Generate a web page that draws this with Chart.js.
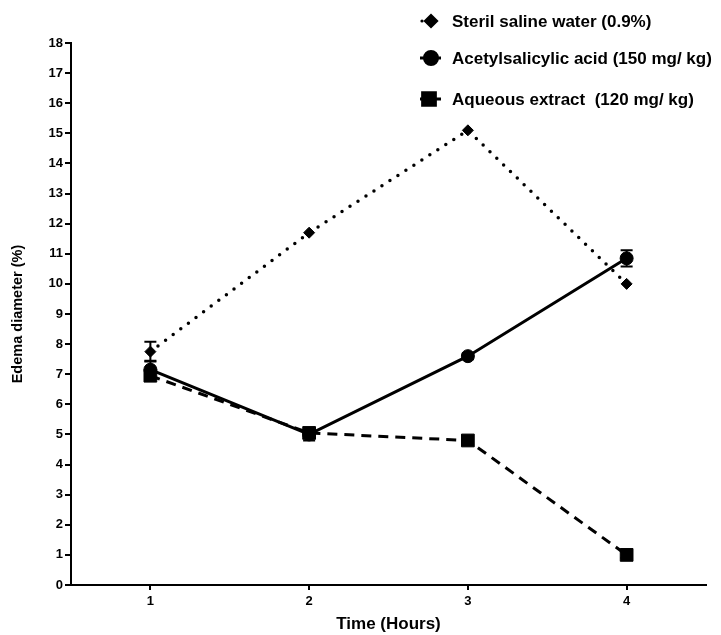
<!DOCTYPE html>
<html>
<head>
<meta charset="utf-8">
<script src="https://cdn.jsdelivr.net/npm/chart.js@4/dist/chart.umd.min.js"></script>
<style>
html,body{margin:0;padding:0;background:#fff;}
#wrap{width:721px;height:635px;position:relative;}
</style>
</head>
<body>
<div id="wrap"><canvas id="c" width="721" height="635"></canvas></div>
<script>
// ---- data ----
const hours = [1, 2, 3, 4];
const xTickLabels = ['1', '2', '3', '4'];
const seriesNames = ['Steril saline water (0.9%)', 'Acetylsalicylic acid (150 mg/ kg)', 'Aqueous extract  (120 mg/ kg)'];
const salineValues = [7.75, 11.7, 15.1, 10.0];
const salineErrors = [0.33, 0, 0, 0];
const aspirinValues = [7.15, 5.0, 7.6, 10.85];
const aspirinErrors = [0.3, 0.2, 0.1, 0.27];
const extractValues = [6.95, 5.05, 4.8, 1.0];
const extractErrors = [0.1, 0.15, 0.1, 0.1];

const FONT = "'Liberation Sans', Arial, Helvetica, sans-serif";

function pts(vals) { return hours.map((h, i) => ({ x: h, y: vals[i] })); }

const errs = [salineErrors, aspirinErrors, extractErrors];

const errorBarPlugin = {
  id: 'errorBars',
  beforeDatasetsDraw(chart) {
    const { ctx, scales } = chart;
    ctx.save();
    ctx.strokeStyle = '#000';
    ctx.lineWidth = 2;
    chart.data.datasets.forEach((ds, di) => {
      ds.data.forEach((p, i) => {
        const e = errs[di][i];
        if (!e) return;
        const x = scales.x.getPixelForValue(p.x);
        const y1 = scales.y.getPixelForValue(p.y + e);
        const y2 = scales.y.getPixelForValue(p.y - e);
        ctx.beginPath();
        ctx.moveTo(x, y1); ctx.lineTo(x, y2);
        ctx.moveTo(x - 6, y1); ctx.lineTo(x + 6, y1);
        ctx.moveTo(x - 6, y2); ctx.lineTo(x + 6, y2);
        ctx.stroke();
      });
    });
    ctx.restore();
  }
};

const legendPlugin = {
  id: 'customLegend',
  afterDraw(chart) {
    const { ctx } = chart;
    const items = [
      { y: 21, ds: 0 },
      { y: 58, ds: 1 },
      { y: 99, ds: 2 }
    ];
    ctx.save();
    items.forEach(it => {
      const ds = chart.data.datasets[it.ds];
      ctx.strokeStyle = '#000';
      ctx.fillStyle = '#000';
      ctx.lineWidth = 3;
      if (it.ds === 0) {
        ctx.beginPath(); ctx.arc(422, it.y, 1.6, 0, Math.PI * 2); ctx.fill();
      } else {
        ctx.beginPath(); ctx.moveTo(420, it.y); ctx.lineTo(441, it.y); ctx.stroke();
      }
      Chart.helpers.drawPoint(ctx, {
        pointStyle: ds.pointStyle, radius: ds.pointRadius, borderWidth: 1, rotation: 0
      }, it.ds === 2 ? 429 : 431, it.y);
      ctx.fillStyle = '#000';
      ctx.font = 'bold 17px ' + FONT;
      ctx.textBaseline = 'middle';
      ctx.textAlign = 'left';
      ctx.fillText(ds.label, 452, it.y + 1);
    });
    ctx.restore();
  }
};

new Chart(document.getElementById('c'), {
  type: 'line',
  data: {
    datasets: [
      {
        label: seriesNames[0], data: pts(salineValues),
        borderColor: '#000', backgroundColor: '#000', borderWidth: 3.5,
        borderDash: [0, 9.5], borderCapStyle: 'round',
        pointStyle: 'rectRot', pointRadius: 5.5, pointBorderWidth: 1, tension: 0
      },
      {
        label: seriesNames[1], data: pts(aspirinValues),
        borderColor: '#000', backgroundColor: '#000', borderWidth: 3,
        pointStyle: 'circle', pointRadius: 6.5, pointBorderWidth: 1, tension: 0
      },
      {
        label: seriesNames[2], data: pts(extractValues),
        borderColor: '#000', backgroundColor: '#000', borderWidth: 3,
        borderDash: [10, 7],
        pointStyle: 'rect', pointRadius: 9, pointBorderWidth: 1, tension: 0
      }
    ]
  },
  options: {
    responsive: false,
    animation: false,
    events: [],
    layout: { padding: { top: 43, right: 15, left: 0, bottom: 0 } },
    plugins: { legend: { display: false }, tooltip: { enabled: false } },
    scales: {
      x: {
        type: 'linear', min: 0.5, max: 4.5,
        afterBuildTicks(s) { s.ticks = hours.map(v => ({ value: v })); },
        afterFit(s) { s.height = 50; },
        ticks: {
          color: '#000', font: { family: FONT, size: 13, weight: 'bold' }, padding: 4,
          callback: (v) => xTickLabels[hours.indexOf(v)]
        },
        grid: { drawOnChartArea: false, color: '#000', lineWidth: 2, tickLength: 5 },
        border: { color: '#000', width: 2 },
        title: {
          display: true, text: 'Time (Hours)', color: '#000',
          font: { family: FONT, size: 17, weight: 'bold' }, padding: { top: 0, bottom: 0 }
        }
      },
      y: {
        min: 0, max: 18,
        afterFit(s) { s.width = 71; },
        ticks: { stepSize: 1, color: '#000', font: { family: FONT, size: 13, weight: 'bold' }, padding: 2 },
        grid: { drawOnChartArea: false, color: '#000', lineWidth: 2, tickLength: 6 },
        border: { color: '#000', width: 2 },
        title: {
          display: true, text: 'Edema diameter (%)', color: '#000',
          font: { family: FONT, size: 14.5, weight: 'bold' }, padding: { top: 9, bottom: 0 }
        }
      }
    }
  },
  plugins: [errorBarPlugin, legendPlugin]
});
</script>
</body>
</html>
